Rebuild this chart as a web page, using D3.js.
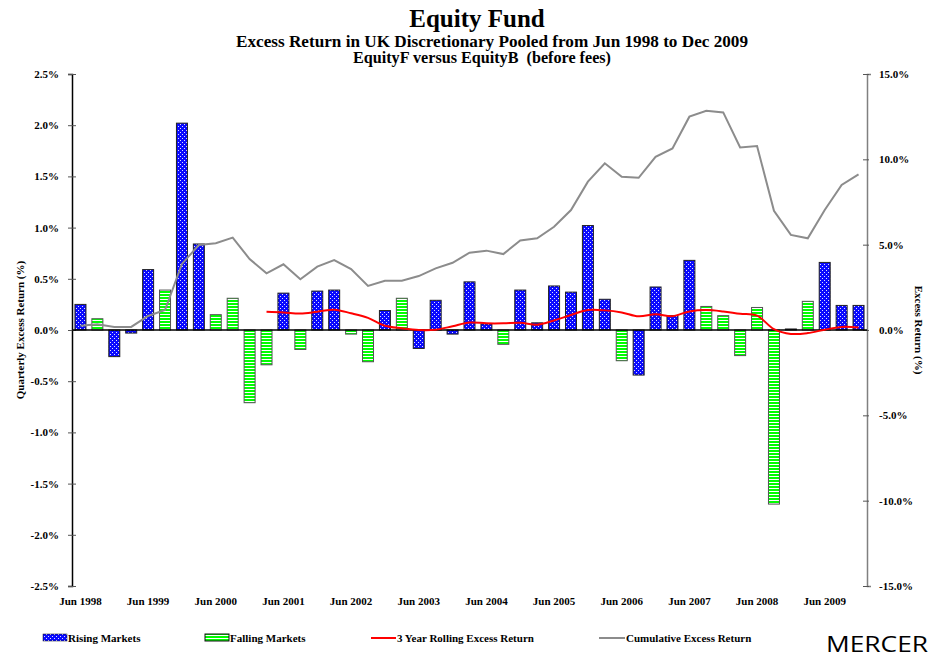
<!DOCTYPE html>
<html lang="en">
<head>
    <meta charset="UTF-8">
    <title>Equity Fund - Excess Return</title>
    <script src="https://d3js.org/d3.v7.min.js"></script>
    <style>
        body {
            margin: 0;
            padding: 0;
            background: #fff;
        }
        svg text {
            font-family: "Liberation Serif", "Times New Roman", serif;
            font-weight: bold;
        }
        .mercer {
            font-family: "Open Sans", sans-serif !important;
            font-weight: normal !important;
        }
    </style>
</head>
<body>
    <svg id="chart"></svg>

    <script>
        // Quarters (Jun 1998 - Dec 2009)
        const quarters = [
            "Jun 1998", "Sep 1998", "Dec 1998", "Mar 1999", "Jun 1999", "Sep 1999", "Dec 1999",
            "Mar 2000", "Jun 2000", "Sep 2000", "Dec 2000", "Mar 2001", "Jun 2001", "Sep 2001",
            "Dec 2001", "Mar 2002", "Jun 2002", "Sep 2002", "Dec 2002", "Mar 2003", "Jun 2003",
            "Sep 2003", "Dec 2003", "Mar 2004", "Jun 2004", "Sep 2004", "Dec 2004", "Mar 2005",
            "Jun 2005", "Sep 2005", "Dec 2005", "Mar 2006", "Jun 2006", "Sep 2006", "Dec 2006",
            "Mar 2007", "Jun 2007", "Sep 2007", "Dec 2007", "Mar 2008", "Jun 2008", "Sep 2008",
            "Dec 2008", "Mar 2009", "Jun 2009", "Sep 2009", "Dec 2009"
        ];

        // R = rising market quarter, F = falling market quarter
        const marketState = [
            "R", "F", "R", "R", "R", "F", "R", "R", "F", "F", "F", "F", "R", "F", "R", "R",
            "F", "F", "R", "F", "R", "R", "R", "R", "R", "F", "R", "R", "R", "R", "R", "R",
            "F", "R", "R", "R", "R", "F", "F", "F", "F", "F", "R", "F", "R", "R", "R"
        ];

        // Quarterly excess return (%) - left axis
        const quarterlyReturn = [
            0.25, 0.11, -0.26, -0.03, 0.59, 0.39, 2.02, 0.84, 0.15, 0.31, -0.71, -0.34,
            0.36, -0.19, 0.38, 0.39, -0.04, -0.31, 0.19, 0.31, -0.18, 0.29, -0.04, 0.47,
            0.06, -0.14, 0.39, 0.07, 0.43, 0.37, 1.02, 0.30, -0.30, -0.44, 0.42, 0.14,
            0.68, 0.23, 0.14, -0.25, 0.22, -1.70, 0.01, 0.28, 0.66, 0.24, 0.24
        ];

        // 3 year rolling excess return (%) - right axis
        const rolling3y = [
            null, null, null, null, null, null, null, null, null, null, null,
            1.07, 1.03, 0.96, 1.07, 1.19, 0.98, 0.71, 0.25, 0.10, 0.00, 0.02, 0.22,
            0.44, 0.39, 0.39, 0.43, 0.31, 0.56, 0.88, 1.17, 1.15, 1.03, 0.80, 0.92,
            0.81, 1.09, 1.17, 1.09, 0.95, 0.84, 0.05, -0.23, -0.18, 0.02, 0.18, 0.15
        ];

        // Cumulative excess return (%) - right axis
        const cumulative = [
            0.25, 0.33, 0.18, 0.18, 0.82, 1.17, 3.87, 4.98, 5.08, 5.41, 4.16, 3.32,
            3.85, 2.97, 3.71, 4.10, 3.57, 2.58, 2.89, 2.89, 3.16, 3.61, 3.94, 4.53,
            4.65, 4.45, 5.25, 5.37, 6.05, 7.03, 8.69, 9.77, 8.98, 8.92, 10.15, 10.64,
            12.50, 12.85, 12.75, 10.70, 10.78, 6.99, 5.57, 5.37, 7.03, 8.50, 9.12
        ];

        const leftTicks = [2.5, 2.0, 1.5, 1.0, 0.5, 0.0, -0.5, -1.0, -1.5, -2.0, -2.5];
        const rightTicks = [15, 10, 5, 0, -5, -10, -15];
        const xLabels = ["Jun 1998", "Jun 1999", "Jun 2000", "Jun 2001", "Jun 2002", "Jun 2003",
            "Jun 2004", "Jun 2005", "Jun 2006", "Jun 2007", "Jun 2008", "Jun 2009"];

        const W = 937, H = 659;
        const plot = { left: 72, right: 867, top: 74, bottom: 586 };

        const svg = d3.select("#chart")
            .attr("width", W)
            .attr("height", H);

        // Fill patterns
        const defs = svg.append("defs");
        const dots = defs.append("pattern")
            .attr("id", "risingFill")
            .attr("patternUnits", "userSpaceOnUse")
            .attr("width", 4).attr("height", 4);
        dots.append("rect").attr("width", 4).attr("height", 4).attr("fill", "#0a0aff");
        dots.append("rect").attr("x", 0).attr("y", 0).attr("width", 1).attr("height", 1).attr("fill", "#e0e0ff");
        dots.append("rect").attr("x", 2).attr("y", 2).attr("width", 1).attr("height", 1).attr("fill", "#e0e0ff");

        const stripes = defs.append("pattern")
            .attr("id", "fallingFill")
            .attr("patternUnits", "userSpaceOnUse")
            .attr("width", 4).attr("height", 3);
        stripes.append("rect").attr("width", 4).attr("height", 3).attr("fill", "#ffffff");
        stripes.append("rect").attr("width", 4).attr("height", 2).attr("fill", "#00ff00");

        // Scales
        const x = d3.scaleBand()
            .domain(quarters)
            .range([plot.left, plot.right])
            .paddingInner(0.35)
            .paddingOuter(0.175);

        const yLeft = d3.scaleLinear().domain([-2.5, 2.5]).range([plot.bottom, plot.top]);
        const yRight = d3.scaleLinear().domain([-15, 15]).range([plot.bottom, plot.top]);

        const data = quarters.map((q, i) => ({
            q: q,
            state: marketState[i],
            ret: quarterlyReturn[i],
            roll: rolling3y[i],
            cum: cumulative[i]
        }));

        // Titles
        svg.append("text")
            .attr("x", 477).attr("y", 27)
            .attr("text-anchor", "middle")
            .style("font-size", "25px")
            .text("Equity Fund");
        svg.append("text")
            .attr("x", 492).attr("y", 47)
            .attr("text-anchor", "middle")
            .attr("textLength", 512)
            .attr("lengthAdjust", "spacingAndGlyphs")
            .style("font-size", "16px")
            .text("Excess Return in UK Discretionary Pooled from Jun 1998 to Dec 2009");
        svg.append("text")
            .attr("x", 482).attr("y", 63)
            .attr("text-anchor", "middle")
            .attr("textLength", 258)
            .attr("lengthAdjust", "spacingAndGlyphs")
            .style("font-size", "16px")
            .style("white-space", "pre")
            .text("EquityF versus EquityB  (before fees)");

        // Left axis
        const leftAxis = svg.append("g")
            .attr("transform", `translate(${plot.left},0)`)
            .call(d3.axisLeft(yLeft).tickValues(leftTicks).tickSize(4).tickPadding(9)
                .tickFormat(d => d.toFixed(1) + "%"));
        leftAxis.select(".domain").attr("stroke", "#000").attr("stroke-width", 1.5);
        leftAxis.selectAll(".tick line").attr("x1", -4).attr("x2", 4).attr("stroke", "#555");
        leftAxis.selectAll("text").style("font-size", "11px").attr("fill", "#000");

        // Right axis
        const rightAxis = svg.append("g")
            .attr("transform", `translate(${plot.right},0)`)
            .call(d3.axisRight(yRight).tickValues(rightTicks).tickSize(4).tickPadding(8)
                .tickFormat(d => d.toFixed(1) + "%"));
        rightAxis.select(".domain").attr("stroke", "#808080").attr("stroke-width", 1.5);
        rightAxis.selectAll(".tick line").attr("x1", -4).attr("x2", 2).attr("stroke", "#555");
        rightAxis.selectAll("text").style("font-size", "11px").attr("fill", "#000");

        // Axis titles
        svg.append("text")
            .attr("transform", `translate(24,${(plot.top + plot.bottom) / 2}) rotate(-90)`)
            .attr("text-anchor", "middle")
            .style("font-size", "11px")
            .text("Quarterly Excess Return (%)");
        svg.append("text")
            .attr("transform", `translate(915,${(plot.top + plot.bottom) / 2}) rotate(90)`)
            .attr("text-anchor", "middle")
            .style("font-size", "11px")
            .text("Excess Return (%)");

        // X labels
        const xAxis = svg.append("g")
            .attr("transform", `translate(0,${plot.bottom + 8})`)
            .call(d3.axisBottom(x).tickValues(xLabels).tickSize(0).tickPadding(3));
        xAxis.select(".domain").remove();
        xAxis.selectAll("text").style("font-size", "11px").attr("fill", "#000");

        // Bars
        svg.append("g")
            .selectAll("rect")
            .data(data)
            .join("rect")
            .attr("x", d => x(d.q))
            .attr("width", x.bandwidth())
            .attr("y", d => yLeft(Math.max(0, d.ret)))
            .attr("height", d => Math.max(1, Math.abs(yLeft(d.ret) - yLeft(0))))
            .attr("fill", d => d.state === "R" ? "url(#risingFill)" : "url(#fallingFill)")
            .attr("stroke", d => d.state === "R" ? "#222" : "#555")
            .attr("stroke-width", 1);

        // Zero line
        svg.append("line")
            .attr("x1", plot.left).attr("x2", plot.right)
            .attr("y1", yLeft(0)).attr("y2", yLeft(0))
            .attr("stroke", "#000").attr("stroke-width", 1.5);

        const cx = d => x(d.q) + x.bandwidth() / 2;

        // Cumulative line
        svg.append("path")
            .datum(data)
            .attr("fill", "none")
            .attr("stroke", "#8c8c8c")
            .attr("stroke-width", 2)
            .attr("d", d3.line().x(cx).y(d => yRight(d.cum)));

        // 3 year rolling line
        svg.append("path")
            .datum(data.filter(d => d.roll !== null))
            .attr("fill", "none")
            .attr("stroke", "#ff0000")
            .attr("stroke-width", 2)
            .attr("d", d3.line().curve(d3.curveCatmullRom).x(cx).y(d => yRight(d.roll)));

        // Legend
        const legendY = 638;
        const legend = svg.append("g");
        legend.append("rect").attr("x", 43).attr("y", legendY - 4).attr("width", 24).attr("height", 7)
            .attr("fill", "url(#risingFill)").attr("stroke", "#111").attr("stroke-width", 0.5);
        legend.append("text").attr("x", 68).attr("y", legendY + 4).style("font-size", "11px").text("Rising Markets");
        legend.append("rect").attr("x", 205).attr("y", legendY - 4).attr("width", 24).attr("height", 7)
            .attr("fill", "url(#fallingFill)").attr("stroke", "#111").attr("stroke-width", 1);
        legend.append("text").attr("x", 230).attr("y", legendY + 4).style("font-size", "11px").text("Falling Markets");
        legend.append("line").attr("x1", 371).attr("x2", 396).attr("y1", legendY).attr("y2", legendY)
            .attr("stroke", "#ff0000").attr("stroke-width", 2);
        legend.append("text").attr("x", 397).attr("y", legendY + 4).style("font-size", "11px").text("3 Year Rolling Excess Return");
        legend.append("line").attr("x1", 599).attr("x2", 625).attr("y1", legendY).attr("y2", legendY)
            .attr("stroke", "#8c8c8c").attr("stroke-width", 2);
        legend.append("text").attr("x", 626).attr("y", legendY + 4).style("font-size", "11px").text("Cumulative Excess Return");

        svg.append("text")
            .attr("class", "mercer")
            .attr("x", 826).attr("y", 652)
            .attr("textLength", 102)
            .attr("lengthAdjust", "spacingAndGlyphs")
            .style("font-size", "22px")
            .text("MERCER");
    </script>
</body>
</html>
